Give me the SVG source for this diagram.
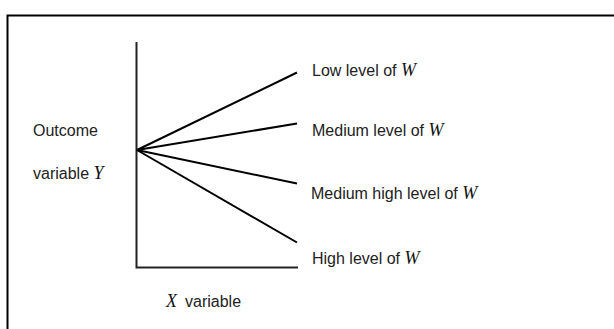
<svg xmlns="http://www.w3.org/2000/svg" width="614" height="329" viewBox="0 0 614 329">
<style>
.t{font-family:"Liberation Sans",Arial,sans-serif;font-size:16px;fill:#222}
.m{font-family:"Liberation Serif","Times New Roman",serif;font-style:italic;font-size:18px;fill:#111}
.ax{stroke:#222;stroke-width:2;fill:none}
.ln{stroke:#000;stroke-width:2;fill:none}
</style>
<rect width="614" height="329" fill="#fff"/>
<g id="frame"><path d="M7.5,340 V15.5 H620" stroke="#000" stroke-width="2" fill="none"/></g>
<g id="axes">
<path class="ax" d="M136.5,42 V267.5 H298"/>
</g>
<g id="connectors">
<line class="ln" x1="137" y1="150" x2="297" y2="72.5"/>
<line class="ln" x1="137" y1="150" x2="297" y2="123.5"/>
<line class="ln" x1="137" y1="150" x2="297" y2="183.5"/>
<line class="ln" x1="137" y1="150" x2="297" y2="242.5"/>
</g>
<g id="label-low"><text x="312" y="76" class="t">Low level of <tspan class="m">W</tspan></text></g>
<g id="label-medium"><text x="312" y="136" class="t">Medium level of <tspan class="m">W</tspan></text></g>
<g id="label-medhigh"><text x="311" y="199" class="t">Medium high level of <tspan class="m">W</tspan></text></g>
<g id="label-high"><text x="312" y="264" class="t">High level of <tspan class="m">W</tspan></text></g>
<g id="label-y"><text x="33" y="136" class="t">Outcome</text><text x="33" y="179" class="t">variable <tspan class="m">Y</tspan></text></g>
<g id="label-x"><text x="166" y="307" class="m">X</text><text x="185" y="307" class="t">variable</text></g>
</svg>
